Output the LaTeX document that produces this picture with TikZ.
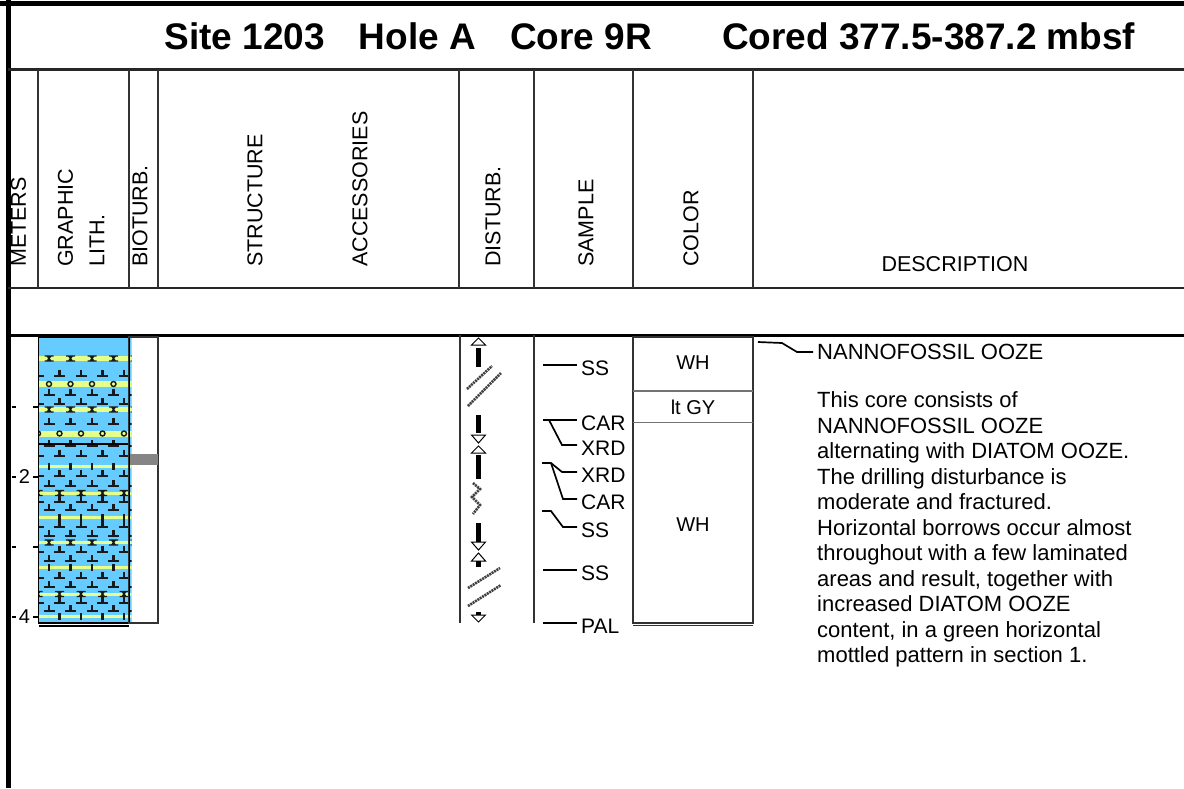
\documentclass[tikz,border=0pt]{standalone}
\usepackage{fontspec}
\setmainfont{Liberation Sans}
\usetikzlibrary{positioning,calc}
\definecolor{OozeBlue}{HTML}{66CCFF}
\definecolor{BandYellow}{HTML}{E6FF8A}
\definecolor{RuleDark}{HTML}{333333}
\definecolor{BarGrey}{HTML}{858585}

\begin{document}
\begin{tikzpicture}[x=1pt, y=-1pt,
  frame/.style={line width=4.5pt, draw=black},
  rule/.style={line width=2.6pt, draw=black!85},
  sep/.style={line width=1.4pt, draw=RuleDark},
  hdr/.style={rotate=90, anchor=west, inner sep=0pt, align=left,
              font=\fontsize{21.5}{24}\selectfont},
  lbl/.style={inner sep=0pt, font=\fontsize{21}{24}\selectfont},
  lead/.style={line width=1.7pt, draw=black},
  nanno/.style={line width=2.4pt, draw=black!90},
  dtm/.style={line width=1.4pt, draw=black!90},
  cut/.style={line width=1pt, draw=black, fill=white},
  drill/.style={fill=black},
  crack/.style={line width=2.6pt, draw=black!75, dash pattern=on 2pt off 0.8pt}]
  \useasboundingbox (0,0) rectangle (1184,788);

  % frame and rules
  \draw[frame] (8.5,0) -- (8.5,788);
  \draw[line width=5pt] (0,3) -- (1184,3);
  \draw[rule] (8,69.5) -- (1184,69.5);
  \draw[rule] (8,288) -- (1184,288);
  \draw[line width=3pt] (8,335.5) -- (1184,335.5);

  \node[inner sep=0pt, font=\fontsize{37}{42}\selectfont\bfseries] (title) at (650,36)
    {Site 1203\hspace{34pt}Hole A\hspace{34pt}Core 9R\hspace{70pt}Cored 377.5-387.2 mbsf};

  % column heads
  \foreach \cx in {38,129,158,459,534,633,753}
    \draw[sep] (\cx,69.5) -- (\cx,288);
  \node[hdr] (hmeters) at (18.5,267) {METERS};
  \node[hdr, font=\fontsize{21.5}{31.5}\selectfont] (hlith) at (81,267) {GRAPHIC\\LITH.};
  \node[hdr] (hbio) at (140,267) {BIOTURB.};
  \node[hdr] (hstruct) at (255,267) {STRUCTURE};
  \node[hdr] (hacc) at (360,267) {ACCESSORIES};
  \node[hdr] (hdist) at (493,267) {DISTURB.};
  \node[hdr] (hsample) at (586,267) {SAMPLE};
  \node[hdr] (hcolor) at (691,267) {COLOR};
  \node[lbl, font=\fontsize{21.5}{24}\selectfont] (hdesc) at (955,264) {DESCRIPTION};

  % meter scale
  \foreach \m in {1,...,4}
    \draw[line width=1.4pt] (11.5,{337+70*\m}) -- (15.5,{337+70*\m})
                            (33,{337+70*\m}) -- (38,{337+70*\m});
  \node[lbl, font=\fontsize{20}{24}\selectfont] (m2) at (24.5,477) {2};
  \node[lbl, font=\fontsize{20}{24}\selectfont] (m4) at (24.5,617) {4};

  % graphic lithology
  \begin{scope}
    \clip (38,337) rectangle (131.5,623);
    \fill[OozeBlue] (38,337) rectangle (131.5,623);
    \foreach \yb/\hb in {358.5/5, 384/6, 409.5/5, 433.5/6, 466/3, 493/3,
                         517/3, 542.5/3, 567.5/3, 594/3, 616.5/3}
      \fill[BandYellow] (38,{\yb-\hb/2}) rectangle (131.5,{\yb+\hb/2});
    \foreach \yr/\xo in {376/38, 395/49, 404/38, 424/49, 446/49, 456/38,
                         476/38, 486/49, 502/38, 510/49, 527/38, 536/49,
                         552/38, 561/49, 578/38, 587/49, 603/38, 611/49}
      \foreach \i in {0,...,4}
        \draw[nanno] ({\xo+21.5*\i-5.5},\yr) -- ({\xo+21.5*\i+5.5},\yr)
                     ({\xo+21.5*\i},\yr) -- ({\xo+21.5*\i},{\yr-6});
    \foreach \yb/\xo in {358.5/49, 409.5/49, 493/38, 542.5/49, 594/38}
      \foreach \i in {0,...,4}
        \draw[dtm] ({\xo+21.5*\i-4.5},{\yb-2.5}) -- ({\xo+21.5*\i+4.5},{\yb-2.5})
                   ({\xo+21.5*\i-4.5},{\yb+2.5}) -- ({\xo+21.5*\i+4.5},{\yb+2.5})
                   ({\xo+21.5*\i-1.8},{\yb-2.5}) -- ({\xo+21.5*\i+1.8},{\yb+2.5})
                   ({\xo+21.5*\i+1.8},{\yb-2.5}) -- ({\xo+21.5*\i-1.8},{\yb+2.5});
    \foreach \yb/\xo in {384/49, 433.5/38}
      \foreach \i in {0,...,4}
        \draw[dtm] ({\xo+21.5*\i},\yb) circle[radius=2.5pt];
    \foreach \yb/\xo in {466/49, 517/38, 567.5/49, 616.5/38}
      \foreach \i in {0,...,4}
        \draw[nanno] ({\xo+21.5*\i},{\yb-3.5}) -- ({\xo+21.5*\i},{\yb+3.5});
  \end{scope}
  \draw[line width=1.6pt] (38.5,337) rectangle (128.7,623);
  \draw[line width=1.3pt] (38.5,444) -- (128.7,444);
  \draw[line width=1.3pt] (38.5,626) -- (128.7,626);

  % bioturbation
  \draw[line width=1.2pt, draw=RuleDark] (128.7,337) rectangle (158,623);
  \fill[BarGrey] (129.5,454) rectangle (158,465);

  % drilling disturbance
  \draw[sep] (460,335) -- (460,623);
  \filldraw[cut] (478.5,338) -- (485.5,345) -- (471.5,345) -- cycle;
  \fill[drill] (476.3,348) rectangle (480.7,367);
  \draw[crack] (467,389) -- (492,366) (468,406) -- (501,373);
  \fill[drill] (476.3,415) rectangle (480.7,433);
  \filldraw[cut] (471.5,435) -- (485.5,435) -- (478.5,443) -- cycle;
  \filldraw[cut] (478.5,446) -- (485.5,453) -- (471.5,453) -- cycle;
  \fill[drill] (476.3,455) rectangle (480.7,479);
  \draw[crack] (473,483) -- (480,489) -- (472,497) -- (480,505) -- (473,514);
  \fill[drill] (476.3,523) rectangle (480.7,542);
  \filldraw[cut] (471.5,542) -- (485.5,542) -- (478.5,550) -- cycle;
  \filldraw[cut] (478.5,553) -- (485.5,561) -- (471.5,561) -- cycle;
  \fill[drill] (476.3,561) rectangle (480.7,567);
  \draw[crack] (468,588) -- (500,568) (468,606) -- (501,585);
  \fill[drill] (476.3,612) rectangle (480.7,615);
  \filldraw[cut] (471.5,615) -- (485.5,615) -- (478.5,622) -- cycle;

  % samples
  \draw[sep] (534,335) -- (534,623);
  \node[lbl, anchor=west] (ss1) at (581,368) {SS};
  \node[lbl, anchor=west] (car1) at (581,423) {CAR};
  \node[lbl, anchor=west] (xrd1) at (581,448) {XRD};
  \node[lbl, anchor=west] (xrd2) at (581,475) {XRD};
  \node[lbl, anchor=west] (car2) at (581,502) {CAR};
  \node[lbl, anchor=west] (ss2) at (581,530) {SS};
  \node[lbl, anchor=west] (ss3) at (581,573) {SS};
  \node[lbl, anchor=west] (pal) at (581,626) {PAL};
  \coordinate (smp1) at (543,365);
  \coordinate (smp2) at (543,420);
  \coordinate (smp3) at (542,463);
  \coordinate (smp4) at (542,511);
  \coordinate (smp5) at (543,570);
  \coordinate (smp6) at (543,623);
  \draw[lead] (smp1) -- ([xshift=-4pt,yshift=3pt]ss1.west);
  \draw[lead] (smp2) -- ([xshift=-4pt,yshift=3pt]car1.west);
  \draw[lead] ([xshift=6pt]smp2) -- ++(13,25) -- ([xshift=-4pt,yshift=3pt]xrd1.west);
  \draw[lead] (smp3) -- ++(9,0) -- ++(11,9) -- ([xshift=-4pt,yshift=3pt]xrd2.west);
  \draw[lead] ([xshift=9pt]smp3) -- ++(12,36) -- ([xshift=-4pt,yshift=3pt]car2.west);
  \draw[lead] (smp4) -- ++(9,0) -- ++(12,16) -- ([xshift=-4pt,yshift=3pt]ss2.west);
  \draw[lead] (smp5) -- ([xshift=-4pt,yshift=3pt]ss3.west);
  \draw[lead] (smp6) -- ([xshift=-4pt,yshift=3pt]pal.west);

  % color
  \draw[line width=1.8pt, draw=RuleDark] (633,337) rectangle (753,623);
  \draw[line width=1.3pt, draw=black!55] (633,391) -- (753,391) (633,422.7) -- (753,422.7);
  \draw[line width=1.3pt, draw=RuleDark] (633,625.5) -- (753,625.5);
  \node[lbl, font=\fontsize{20}{24}\selectfont] (cwh1) at (693,363) {WH};
  \node[lbl, font=\fontsize{20}{24}\selectfont] (cgy) at (693,407) {lt GY};
  \node[lbl, font=\fontsize{20}{24}\selectfont] (cwh2) at (693,525) {WH};

  % description
  \node[lbl, anchor=west, font=\fontsize{22}{25.5}\selectfont] (dname) at (817,352) {NANNOFOSSIL OOZE};
  \coordinate (dtop) at (758,342);
  \draw[lead] (dtop) -- ++(24,1) -- ++(15,9) -- ([xshift=-4pt]dname.west);
  \node[anchor=north west, inner sep=0pt, align=left,
        font=\fontsize{22}{25.5}\selectfont] (desc) at (817,391.5)
    {This core consists of\\
     NANNOFOSSIL OOZE\\
     alternating with DIATOM OOZE.\\
     The drilling disturbance is\\
     moderate and fractured.\\
     Horizontal borrows occur almost\\
     throughout with a few laminated\\
     areas and result, together with\\
     increased DIATOM OOZE\\
     content, in a green horizontal\\
     mottled pattern in section 1.};
\end{tikzpicture}
\end{document}
